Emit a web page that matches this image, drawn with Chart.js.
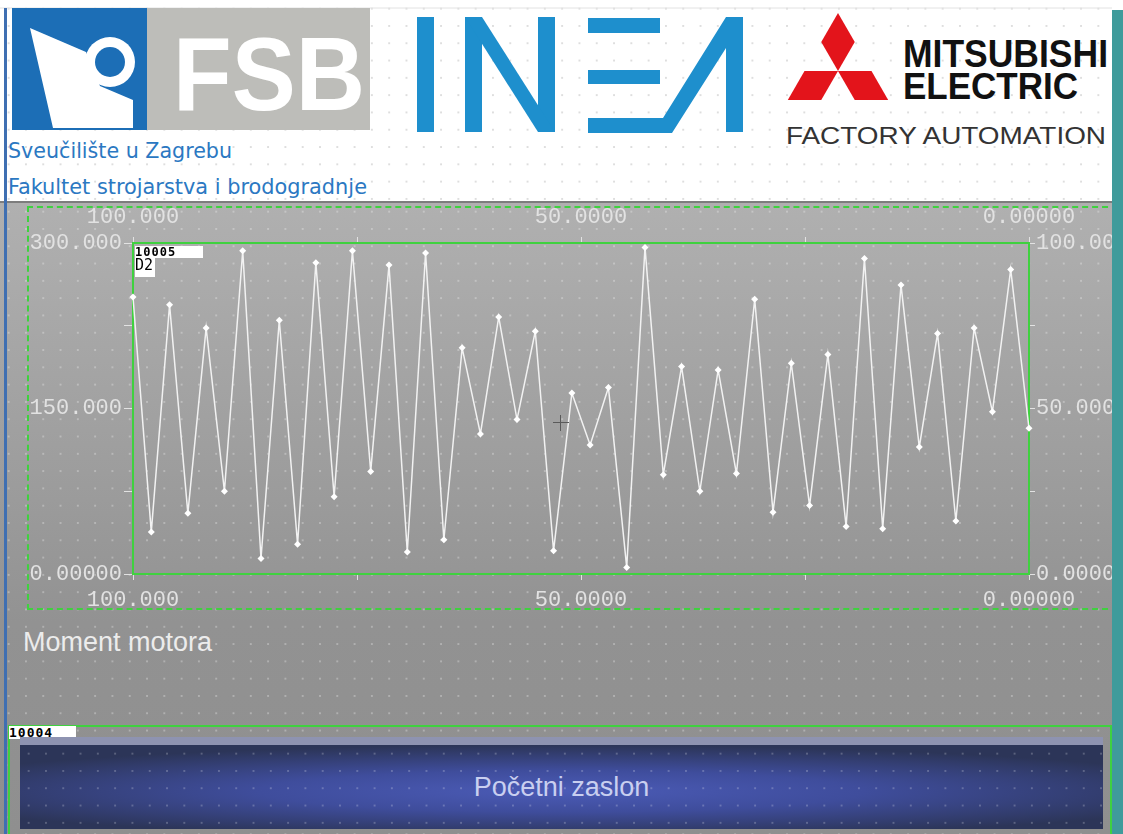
<!DOCTYPE html>
<html>
<head>
<meta charset="utf-8">
<script src="https://cdn.jsdelivr.net/npm/chart.js@4.4.1/dist/chart.umd.min.js"></script>
<style>
  html, body { margin: 0; padding: 0; }
  body { width: 1123px; height: 834px; position: relative; overflow: hidden; background: #fff; font-family: "Liberation Sans", Arial, sans-serif; }
  .abs { position: absolute; }
  #header {
    left: 0; top: 0; width: 1112px; height: 201px; background-color: #fff;
    background-image: radial-gradient(circle, rgba(0,0,0,0.13) 0.9px, transparent 1.3px);
    background-size: 17.3px 17.3px;
  }
  #panel {
    left: 0; top: 201px; width: 1123px; height: 633px;
    background-color: #9a9a9a;
    background-image:
      radial-gradient(circle, rgba(255,255,255,0.28) 0.9px, transparent 1.3px),
      linear-gradient(#b0b0b0 0px, #a2a2a2 200px, #929292 420px, #8f8f8f 633px);
    background-size: 17.3px 17.3px, 100% 100%;
    border-top: 2px solid #7d7d7d;
  }
  #leftStripe { left: 4px; top: 8px; width: 3px; height: 826px; background: #3f6fb2; }
  #tealBar { left: 1112px; top: 10px; width: 11px; height: 824px; background: #3f9b9b; z-index: 10; }
  #dashBox { left: 27px; top: 206px; width: 1091px; height: 404px; border: 2px dashed #3fd13f; box-sizing: border-box; }
  #chartBox { left: 0; top: 200px; width: 1112px; height: 420px; }
  .tag { background: #fff; color: #000; font-family: "DejaVu Sans Mono", monospace; font-weight: bold; line-height: 1; }
  #title { left: 23px; top: 627px; font-size: 27px; color: #ececec; }
  #btnFrame { left: 8px; top: 725px; width: 1104px; height: 115px; border: 2px solid #3fd13f; box-sizing: border-box; }
  #button {
    left: 20px; top: 737px; width: 1083px; height: 92px; box-sizing: border-box;
    border-top: 8px solid #8e93b1;
    background-image:
      radial-gradient(circle, rgba(255,255,255,0.22) 0.9px, transparent 1.3px),
      radial-gradient(ellipse 62% 55% at 50% 55%, #4b5bb6 0%, #3f4d9c 45%, #2c3558 100%);
    background-size: 17.3px 17.3px, 100% 100%;
    color: #c9cff0; font-size: 27px; text-align: center; line-height: 84px;
  }
  #cursor { left: 553px; top: 415px; width: 16px; height: 16px; }
  #cursor:before { content: ""; position: absolute; left: 7px; top: 0; width: 1px; height: 16px; background: #5a5a5a; }
  #cursor:after { content: ""; position: absolute; left: 0; top: 7px; width: 16px; height: 1px; background: #5a5a5a; }
</style>
</head>
<body>
<div id="header" class="abs">
  <svg width="1112" height="201" style="position:absolute;left:0;top:0">
    <line x1="0" y1="8" x2="1112" y2="8" stroke="#e2e2e2" stroke-width="1"/>
    <!-- FSB -->
    <rect x="12" y="8" width="135" height="122" fill="#1c6eb6"/>
    <rect x="147" y="8" width="223" height="122" fill="#bdbdb9"/>
    <polygon points="30,28 86,52 100,86 133,100 133,128 53,128" fill="#fff"/>
    <circle cx="110" cy="62" r="25" fill="#fff"/>
    <circle cx="110" cy="62" r="15" fill="#1c6eb6"/>
    <text x="173" y="110" font-family="Liberation Sans" font-weight="bold" font-size="104" fill="#fff" textLength="192" lengthAdjust="spacingAndGlyphs">FSB</text>
    <text x="8" y="158" font-family="DejaVu Sans" font-stretch="condensed" font-size="21" fill="#2b78c2" textLength="224" lengthAdjust="spacingAndGlyphs">Sveučilište u Zagrebu</text>
    <text x="8" y="194" font-family="DejaVu Sans" font-stretch="condensed" font-size="21" fill="#2b78c2" textLength="359" lengthAdjust="spacingAndGlyphs">Fakultet strojarstva i brodogradnje</text>
    <!-- INEA -->
    <g fill="#1e8fcd">
      <rect x="417" y="17" width="17" height="115"/>
      <rect x="465" y="17" width="17" height="115"/>
      <rect x="538" y="17" width="17" height="115"/>
      <polygon points="465,17 482,17 555,132 538,132"/>
      <rect x="588" y="18" width="72" height="15"/>
      <rect x="588" y="70" width="72" height="14"/>
      <polygon points="588,118 663,118 726,17 743,17 743,132 726,132 726,48 672,133 588,133"/>
    </g>
    <!-- Mitsubishi -->
    <g fill="#e3141b">
      <polygon points="838,13 854.75,42 838,71 821.25,42"/>
      <polygon points="838,71 804.5,71 787.8,100 821.25,100"/>
      <polygon points="838,71 871.5,71 888.2,100 854.75,100"/>
    </g>
    <text x="903" y="67" font-family="Liberation Sans" font-weight="bold" font-size="39" fill="#111" textLength="205" lengthAdjust="spacingAndGlyphs">MITSUBISHI</text>
    <text x="903" y="99" font-family="Liberation Sans" font-weight="bold" font-size="37" fill="#111" textLength="175" lengthAdjust="spacingAndGlyphs">ELECTRIC</text>
    <text x="786" y="144" font-family="Liberation Sans" font-size="24" fill="#333" textLength="320" lengthAdjust="spacingAndGlyphs">FACTORY AUTOMATION</text>
  </svg>
</div>
<div id="panel" class="abs"></div>
<div id="leftStripe" class="abs"></div>
<div id="dashBox" class="abs"></div>
<div id="chartBox" class="abs"><canvas id="trendChart" width="1112" height="420"></canvas></div>
<div class="abs tag" style="left:135px;top:246px;width:68px;height:12px;font-size:12px;letter-spacing:1px;">10005</div>
<div class="abs tag" style="left:135px;top:258px;width:20px;height:19px;font-size:15px;font-weight:normal;">D2</div>
<div id="cursor" class="abs"></div>
<div id="title" class="abs">Moment motora</div>
<div id="btnFrame" class="abs"></div>
<div class="abs tag" style="left:9px;top:726px;width:67px;height:13px;font-size:13px;letter-spacing:1px;">10004</div>
<div id="button" class="abs">Početni zaslon</div>
<div id="tealBar" class="abs"></div>

<script>
// trend samples (oldest on the right, x axis runs 100 -> 0)
const samples = [1, 2, 3, 4, 5, 6, 7, 8, 9, 10, 11, 12, 13, 14, 15, 16, 17, 18, 19, 20,
                 21, 22, 23, 24, 25, 26, 27, 28, 29, 30, 31, 32, 33, 34, 35, 36, 37, 38, 39, 40,
                 41, 42, 43, 44, 45, 46, 47, 48, 49, 50];
const torque = [251, 38, 244, 55, 223, 75, 293, 14, 230, 27,
                282, 70, 293, 93, 280, 20, 291, 31, 205, 127,
                233, 140, 220, 21, 164, 117, 169, 6, 296, 90,
                188, 75, 185, 91, 249, 56, 191, 62, 199, 43,
                286, 41, 262, 115, 218, 48, 223, 147, 276, 132];

// axis ranges and the ticks that carry a label
const xRange = [0, 100];
const leftRange = [0, 300];
const rightRange = [0, 100];
const xLabelTicks = [100, 50, 0];
const leftLabelTicks = [300, 150, 0];
const rightLabelTicks = [100, 50, 0];

const green = '#3fd13f';
const tickColor = '#e2e2e2';
const tickFont = { family: 'Liberation Mono', size: 22 };

function fmt(v) {
    return v === 0 ? '0.00000' : Number(v).toPrecision(6);
}
function labelIf(list) {
    return v => list.includes(v) ? fmt(v) : '';
}

function sideScale(position, range, step, labels, tickLen, pad, size) {
    const horizontal = position === 'top' || position === 'bottom';
    return {
        type: 'linear',
        position: position,
        min: range[0],
        max: range[1],
        reverse: horizontal,
        border: { color: green, width: 2 },
        grid: { drawOnChartArea: false, drawTicks: true, tickLength: tickLen, color: tickColor, lineWidth: 1 },
        ticks: {
            stepSize: step,
            autoSkip: false,
            maxRotation: 0,
            padding: pad,
            color: tickColor,
            font: tickFont,
            callback: labelIf(labels)
        },
        afterFit: s => { if (horizontal) s.height = size; else s.width = size; }
    };
}

new Chart(document.getElementById('trendChart'), {
    type: 'line',
    data: {
        labels: samples,
        datasets: [{
            data: torque,
            xAxisID: 'x',
            yAxisID: 'y',
            borderColor: '#f2f2f2',
            borderWidth: 1.5,
            tension: 0,
            pointStyle: 'rectRot',
            pointRadius: 3.5,
            pointBackgroundColor: '#ffffff',
            pointBorderWidth: 0,
            clip: false
        }]
    },
    options: {
        responsive: false,
        animation: false,
        layout: { padding: 0 },
        plugins: { legend: { display: false }, tooltip: { enabled: false } },
        scales: {
            x: { type: 'category', display: false, offset: false },
            xTop: sideScale('top', xRange, 25, xLabelTicks, 6, 7, 43),
            xBottom: sideScale('bottom', xRange, 25, xLabelTicks, 6, 7, 46),
            y: sideScale('left', leftRange, 75, leftLabelTicks, 9, 2, 133),
            y2: sideScale('right', rightRange, 25, rightLabelTicks, 6, 1, 83)
        }
    }
});
</script>
</body>
</html>
